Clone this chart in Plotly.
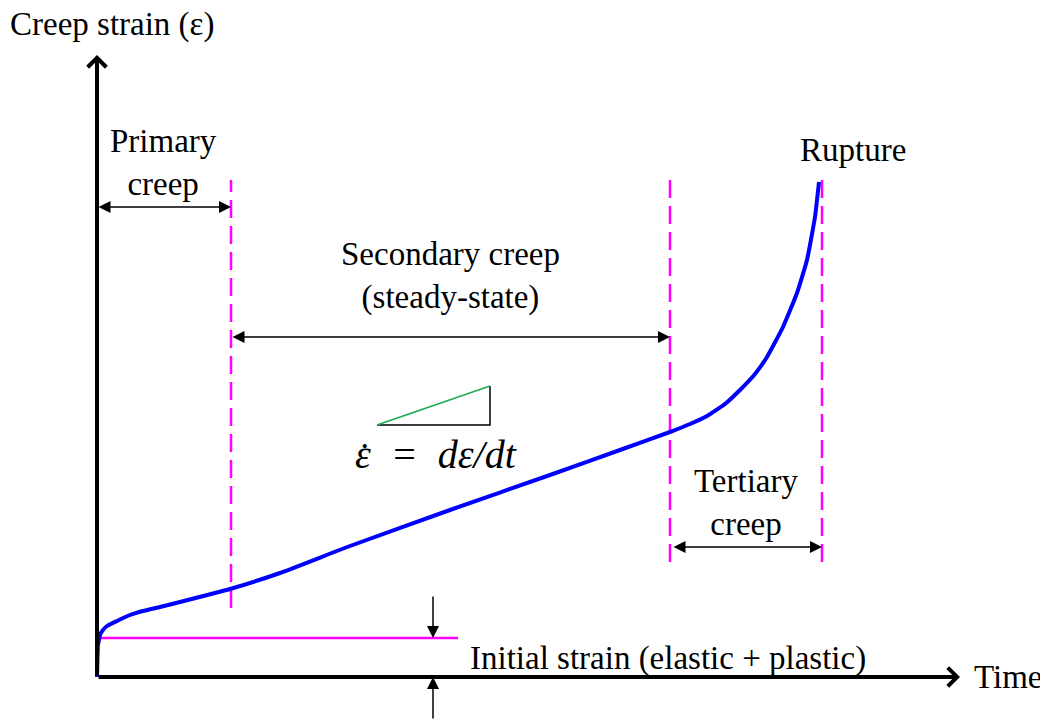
import plotly.graph_objects as go

# ---- schematic creep curve (arbitrary time / strain units) ----
time = [0, 0.5, 1, 2, 3, 6, 10, 20, 33, 46, 63, 83, 133, 183, 253, 353, 453,
        523, 573, 593, 610, 628, 643, 658, 670, 686, 700, 710, 718, 722]
strain = [0, 20, 32, 37, 42, 47, 51, 56, 62, 66, 70, 75, 88, 104, 131, 167, 202,
          227, 245, 253, 261, 273, 287, 303, 320, 350, 384, 417, 460, 495]

# stage boundaries (time) and ranges of the dashed markers (strain)
primary_end = 134
secondary_end = 573
rupture_time = 725
boundary_x = [primary_end, secondary_end, rupture_time]
boundary_lo = [69, 115, 115]
boundary_hi = [497, 505, 505]

initial_strain = 39
initial_line_end = 361
initial_arrow_x = 336

# slope triangle
tri_t = [280, 393]
tri_e = [252, 291]

# double-headed arrows (y level, x from, x to)
stage_arrows = [(470, 0, primary_end), (340, primary_end, secondary_end),
                (130, secondary_end + 2, rupture_time)]

# axis extents
x_axis_end = 863
y_axis_end = 622

FONT = "Liberation Serif"
MAG = "#FF00FF"
FS = 33

fig = go.Figure()

# dashed stage boundaries
for bx, lo, hi in zip(boundary_x, boundary_lo, boundary_hi):
    fig.add_trace(go.Scatter(x=[bx, bx], y=[lo, hi], mode="lines",
                             line=dict(color=MAG, width=2.5, dash="18px,8px"),
                             hoverinfo="skip"))

# initial strain line
fig.add_trace(go.Scatter(x=[0, initial_line_end], y=[initial_strain, initial_strain],
                         mode="lines", line=dict(color=MAG, width=2.5), hoverinfo="skip"))

# slope triangle
fig.add_trace(go.Scatter(x=[tri_t[0], tri_t[1], tri_t[1]], y=[tri_e[0], tri_e[0], tri_e[1]],
                         mode="lines", line=dict(color="black", width=1.5), hoverinfo="skip"))
fig.add_trace(go.Scatter(x=tri_t, y=tri_e, mode="lines",
                         line=dict(color="#1AAA50", width=1.5), hoverinfo="skip"))

# creep curve
fig.add_trace(go.Scatter(x=time, y=strain, mode="lines",
                         line=dict(color="#0000FF", width=4, shape="spline", smoothing=0.4),
                         hoverinfo="skip"))

anns = []
def arrow(x, y, ax, ay, width=1.5, head=2, size=1.6, side="end"):
    anns.append(dict(x=x, y=y, ax=ax, ay=ay, xref="x", yref="y", axref="x", ayref="y",
                     text="", showarrow=True, arrowhead=head, startarrowhead=head,
                     arrowsize=size, startarrowsize=size, arrowwidth=width,
                     arrowcolor="black", arrowside=side, standoff=0, startstandoff=0))

# axes with arrowheads
arrow(0, y_axis_end, 0, 0, width=4, head=4, size=0.9)
arrow(x_axis_end, 0, 0, 0, width=4, head=4, size=0.9)

# stage arrows
for yl, x0, x1 in stage_arrows:
    arrow(x1, yl, x0, yl, side="end+start")

# initial strain arrows
arrow(initial_arrow_x, initial_strain, initial_arrow_x, initial_strain + 43)
arrow(initial_arrow_x, 0, initial_arrow_x, -43)

def label(x, y, text, xanchor="center", size=FS, italic=False):
    anns.append(dict(x=x, y=y, xref="x", yref="y", text=text, showarrow=False,
                     xanchor=xanchor, yanchor="middle",
                     font=dict(family=FONT, size=size, color="black",
                               style="italic" if italic else "normal")))

label(-89, 653, "Creep strain (ε)", xanchor="left")
label(66, 515, "Primary<br>creep")
label(353, 401, "Secondary creep<br>(steady-state)")
label(649, 175, "Tertiary<br>creep")
label(756, 527, "Rupture")
label(875, 0, "Time", xanchor="left")
label(371, 19, "Initial strain (elastic + plastic)", xanchor="left")
# rate formula, with the dot of the strain rate above the first epsilon
label(339, 223, "ε\u2002=\u2002dε/dt", size=40, italic=True)
label(265, 221, "˙", size=38, italic=True)

fig.update_layout(
    width=1040, height=713,
    margin=dict(l=0, r=0, t=0, b=0),
    paper_bgcolor="white", plot_bgcolor="white",
    showlegend=False,
    xaxis=dict(range=[-89, 951], visible=False, fixedrange=True),
    yaxis=dict(range=[-44, 669], visible=False, fixedrange=True),
    annotations=anns,
)

fig.write_html("out.html")
